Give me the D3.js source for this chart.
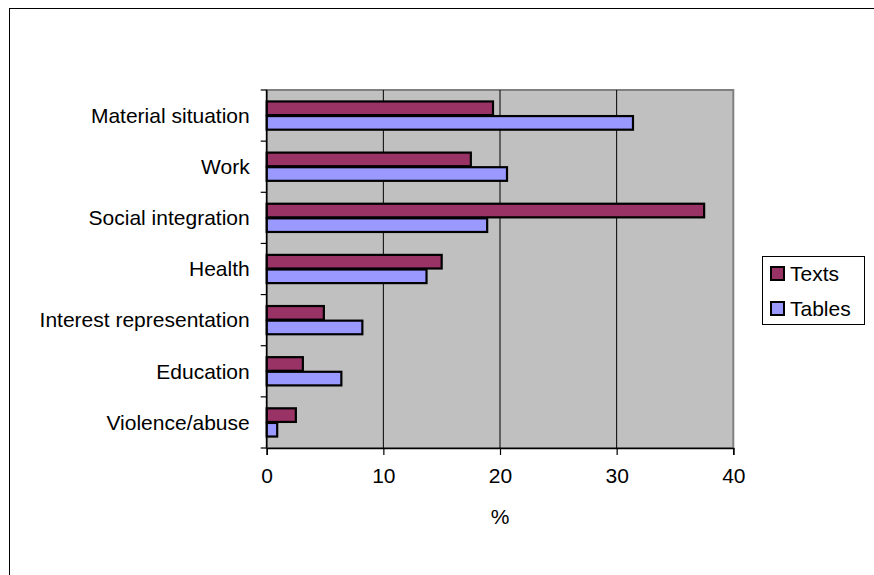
<!DOCTYPE html>
<html>
<head>
<meta charset="utf-8">
<script src="https://cdn.jsdelivr.net/npm/d3@7"></script>
<style>
  html, body { margin: 0; padding: 0; background: #fff; }
  svg { display: block; font-family: "Liberation Sans", Arial, sans-serif; }
</style>
</head>
<body>
<svg id="chart" width="874" height="575"></svg>
<script>
const categories = ["Material situation", "Work", "Social integration", "Health", "Interest representation", "Education", "Violence/abuse"];
const seriesNames = ["Texts", "Tables"];
const textsValues = [19.4, 17.5, 37.5, 15.0, 4.9, 3.1, 2.5];
const tablesValues = [31.4, 20.6, 18.9, 13.7, 8.2, 6.4, 0.9];
const xTicks = [0, 10, 20, 30, 40];
const seriesColors = ["#993366", "#9999FF"];

const svg = d3.select("#chart");
const plot = { left: 266.7, top: 90, right: 733.3, bottom: 448 };

// outer chart border (extends past the picture on right & bottom)
svg.append("rect").attr("x", 9.5).attr("y", 8.5).attr("width", 900).attr("height", 600)
  .attr("fill", "#fff").attr("stroke", "#000").attr("stroke-width", 1);

const x = d3.scaleLinear().domain([0, 40]).range([plot.left, plot.right]);
const y0 = d3.scaleBand().domain(categories).range([plot.top, plot.bottom])
  .paddingInner(1.5 / 3.5).paddingOuter(0.75 / 3.5);
const y1 = d3.scaleBand().domain(seriesNames).range([0, y0.bandwidth()]);
const yCat = d3.scaleBand().domain(categories).range([plot.top, plot.bottom]);

// plot background
svg.append("rect").attr("x", plot.left).attr("y", plot.top)
  .attr("width", plot.right - plot.left).attr("height", plot.bottom - plot.top)
  .attr("fill", "#C0C0C0").attr("stroke", "#808080").attr("stroke-width", 2);

// gridlines
svg.append("g").selectAll("line").data(xTicks.filter(d => d > 0 && d < 40)).join("line")
  .attr("x1", d => x(d)).attr("x2", d => x(d))
  .attr("y1", plot.top).attr("y2", plot.bottom)
  .attr("stroke", "#000").attr("stroke-width", 1);

// bars
const data = categories.map((c, i) => ({ cat: c, vals: [
  { s: "Texts", v: textsValues[i] }, { s: "Tables", v: tablesValues[i] }] }));
const groups = svg.append("g").selectAll("g").data(data).join("g")
  .attr("transform", d => `translate(0,${y0(d.cat)})`);
groups.selectAll("rect").data(d => d.vals).join("rect")
  .attr("x", x(0)).attr("y", d => y1(d.s) + 0.5)
  .attr("width", d => x(d.v) - x(0)).attr("height", y1.bandwidth() - 1)
  .attr("fill", (d, i) => seriesColors[i])
  .attr("stroke", "#000").attr("stroke-width", 2.2);

// y axis (category ticks at band boundaries)
const yAxisG = svg.append("g");
yAxisG.append("line").attr("x1", plot.left).attr("x2", plot.left)
  .attr("y1", plot.top).attr("y2", plot.bottom).attr("stroke", "#000").attr("stroke-width", 1.5);
const boundaries = categories.map(c => yCat(c)).concat([plot.bottom]);
yAxisG.selectAll("line.tk").data(boundaries).join("line").attr("class", "tk")
  .attr("x1", plot.left - 6).attr("x2", plot.left)
  .attr("y1", d => d).attr("y2", d => d).attr("stroke", "#000").attr("stroke-width", 1.2);
yAxisG.selectAll("text").data(categories).join("text")
  .attr("x", plot.left - 17).attr("y", d => yCat(d) + yCat.bandwidth() / 2)
  .attr("dy", "0.35em").attr("text-anchor", "end")
  .attr("font-size", 21).attr("fill", "#000").text(d => d);

// x axis
const xAxis = d3.axisBottom(x).tickValues(xTicks).tickSize(7).tickPadding(13).tickFormat(d3.format("d"));
const xg = svg.append("g").attr("transform", `translate(0,${plot.bottom})`).call(xAxis);
xg.select(".domain").attr("stroke", "#000").attr("stroke-width", 1.5);
xg.selectAll(".tick line").attr("stroke", "#000").attr("stroke-width", 1.2);
xg.selectAll(".tick text").attr("font-size", 21).attr("fill", "#000")
  .attr("font-family", "Liberation Sans, Arial, sans-serif");

// x axis title
svg.append("text").attr("x", (plot.left + plot.right) / 2).attr("y", 517)
  .attr("dy", "0.35em").attr("text-anchor", "middle").attr("font-size", 21).text("%");

// legend
const legend = svg.append("g");
legend.append("rect").attr("x", 762.5).attr("y", 256.5).attr("width", 102).attr("height", 68)
  .attr("fill", "#fff").attr("stroke", "#000").attr("stroke-width", 1);
const legY = d3.scalePoint().domain(seriesNames).range([273.5, 308.5]);
const li = legend.selectAll("g").data(seriesNames).join("g")
  .attr("transform", d => `translate(0,${legY(d)})`);
li.append("rect").attr("x", 771).attr("y", -6.5).attr("width", 13).attr("height", 13)
  .attr("fill", (d, i) => seriesColors[i]).attr("stroke", "#000").attr("stroke-width", 2);
li.append("text").attr("x", 790).attr("y", 0).attr("dy", "0.35em")
  .attr("font-size", 21).text(d => d);
</script>
</body>
</html>
